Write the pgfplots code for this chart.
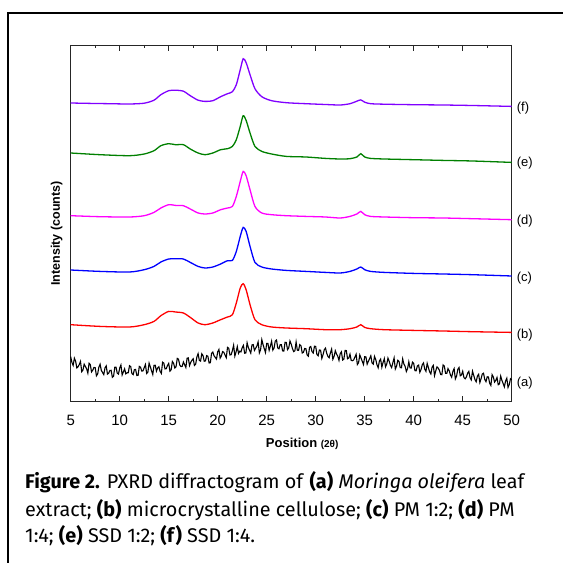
\documentclass[border=0pt]{standalone}
\usepackage{pgfplots}
\usepackage{pgfplotstable}
\pgfplotsset{compat=1.18}
\usepackage{fontspec}
\setmainfont{Liberation Sans}
\newfontfamily\capfont{Fira Sans}
\definecolor{cviolet}{RGB}{128,0,255}
\definecolor{cgreen}{RGB}{0,128,0}
\definecolor{cmag}{RGB}{255,0,255}
\pgfplotstableread{
x y
5.000 45
5.125 39.2
5.250 36.3
5.375 43.5
5.500 40.6
5.625 33.8
5.750 35
5.875 37.2
6.000 40.3
6.125 30
6.250 31.7
6.375 37.5
6.500 35.2
6.625 32.9
6.750 28.6
6.875 38.4
7.000 37.1
7.125 29.8
7.250 31.5
7.375 34.3
7.500 34
7.625 25.9
7.750 27.7
7.875 34.6
8.000 37.4
8.125 31.3
8.250 29.2
8.375 27.1
8.500 33.9
8.625 35.8
8.750 27.6
8.875 28.5
9.000 31.3
9.125 31.4
9.250 24.4
9.375 25.5
9.500 34.5
9.625 34.5
9.750 28.5
9.875 27.6
10.000 33.6
10.125 36.7
10.250 26.7
10.375 29.8
10.500 32.8
10.625 27.9
10.750 28.9
10.875 29
11.000 36
11.125 35.1
11.250 28.1
11.375 27.1
11.500 32.1
11.625 32.2
11.750 26.2
11.875 26.3
12.000 35.3
12.125 34.5
12.250 30.6
12.375 30.8
12.500 34
12.625 37.2
12.750 28.3
12.875 29.5
13.000 38.6
13.125 34.8
13.250 31
13.375 27.2
13.500 36.3
13.625 36.5
13.750 30.6
13.875 33.8
14.000 35
14.125 30.2
14.250 28.3
14.375 39.5
14.500 38.6
14.625 32.8
14.750 33
14.875 36.2
15.000 38.3
15.125 30.6
15.250 31.9
15.375 40.2
15.500 38.4
15.625 33.7
15.750 35
15.875 43.3
16.000 42.5
16.125 36.8
16.250 35.1
16.375 35.4
16.500 39.7
16.625 37
16.750 34.2
16.875 43.5
17.000 43.8
17.125 36.1
17.250 39.3
17.375 41.6
17.500 42.9
17.625 36.2
17.750 37.4
17.875 44.7
18.000 48
18.125 41.3
18.250 40.6
18.375 47.9
18.500 46.2
18.625 40.5
18.750 40.8
18.875 46.1
19.000 45.4
19.125 38.7
19.250 39
19.375 48.4
19.500 49.7
19.625 46
19.750 44.3
19.875 42.6
20.000 49.9
20.125 52.2
20.250 43.5
20.375 45.8
20.500 50.1
20.625 49.4
20.750 46.7
20.875 44
21.000 54.3
21.125 53.5
21.250 46.7
21.375 47
21.500 51.2
21.625 56.4
21.750 45.6
21.875 49.9
22.000 55.1
22.125 48.3
22.250 50.5
22.375 49.8
22.500 54
22.625 56.3
22.750 48.5
22.875 48.7
23.000 58.9
23.125 54.2
23.250 51.4
23.375 48.6
23.500 56.8
23.625 57.1
23.750 51.3
23.875 53.5
24.000 55.7
24.125 59.8
24.250 48.8
24.375 51.9
24.500 62
24.625 57.1
24.750 53.1
24.875 49.2
25.000 58.2
25.125 58.3
25.250 51.4
25.375 55.5
25.500 60.5
25.625 51.6
25.750 53.6
25.875 60.7
26.000 61.7
26.125 53.8
26.250 52.9
26.375 57
26.500 57
26.625 50.8
26.750 50.6
26.875 59.4
27.000 59.2
27.125 52.1
27.250 53.9
27.375 60.7
27.500 57.5
27.625 53.3
27.750 50.1
27.875 50.9
28.000 59.7
28.125 51.5
28.250 51.3
28.375 57.1
28.500 55.9
28.625 48.7
28.750 49.4
28.875 53.2
29.000 53
29.125 46.8
29.250 45.6
29.375 54.4
29.500 55.2
29.625 50
29.750 48.7
29.875 55.5
30.000 55.3
30.125 47.1
30.250 45.9
30.375 51.7
30.500 51.5
30.625 43.3
30.750 47.1
30.875 51.9
31.000 53.6
31.125 48.4
31.250 45.2
31.375 44
31.500 48.8
31.625 52.6
31.750 42.4
31.875 45.2
32.000 51
32.125 47.8
32.250 45.5
32.375 41.3
32.500 48.1
32.625 49.9
32.750 41.7
32.875 42.5
33.000 51.3
33.125 51.1
33.250 42.9
33.375 43.7
33.500 47.5
33.625 41.3
33.750 41
33.875 41.8
34.000 44.6
34.125 47.4
34.250 37.2
34.375 39
34.500 46.8
34.625 43.6
34.750 40.4
34.875 37.2
35.000 45
35.125 44.8
35.250 37.5
35.375 40.3
35.500 43.1
35.625 45.9
35.750 38.7
35.875 37.5
36.000 45.3
36.125 42.2
36.250 37
36.375 33.9
36.500 40.7
36.625 42.6
36.750 34.4
36.875 39.3
37.000 43.1
37.125 34.9
37.250 37.7
37.375 43.6
37.500 40.4
37.625 36.3
37.750 34.1
37.875 39
38.000 43.8
38.125 32.7
38.250 35.5
38.375 41.4
38.500 40.2
38.625 34.1
38.750 33.9
38.875 42.8
39.000 37.6
39.125 35.4
39.250 30.2
39.375 33.1
39.500 39.9
39.625 33.8
39.750 33.6
39.875 39.5
40.000 38.3
40.125 31.1
40.250 30.9
40.375 35.8
40.500 36.6
40.625 29.4
40.750 32.2
40.875 37
41.000 38.8
41.125 32.6
41.250 30.4
41.375 38.3
41.500 34.1
41.625 29.9
41.750 27.7
41.875 34.5
42.000 36.3
42.125 26.1
42.250 30.9
42.375 34.8
42.500 33.6
42.625 31.4
42.750 27.2
42.875 27
43.000 36.8
43.125 35.6
43.250 28.4
43.375 28.3
43.500 33.1
43.625 30.9
43.750 26.7
43.875 24.5
44.000 30.3
44.125 33.1
44.250 22.8
44.375 25.6
44.500 32.4
44.625 34.2
44.750 25.9
44.875 26.7
45.000 30.4
45.125 24.2
45.250 22.9
45.375 24.7
45.500 28.5
45.625 30.3
45.750 24
45.875 21.8
46.000 30.5
46.125 26.3
46.250 22.1
46.375 19.9
46.500 25.6
46.625 27.4
46.750 19.2
46.875 23
47.000 27.7
47.125 28.5
47.250 22.3
47.375 20.1
47.500 24.9
47.625 24.7
47.750 18.5
47.875 16.3
48.000 27
48.125 24.8
48.250 19.6
48.375 21.4
48.500 24.2
48.625 17
48.750 17.8
48.875 25.6
49.000 21.4
49.125 18.2
49.250 14.9
49.375 20.7
49.500 23.5
49.625 14.3
49.750 17.1
49.875 22.9
50.000 21.7
}\moringa
\begin{document}
\begin{tikzpicture}[x=1pt,y=1pt]
\useasboundingbox (0,0) rectangle (563,563);
\draw[line width=2pt] (8.3,-2) -- (8.3,550) -- (570,550);
\begin{axis}[
  at={(70.7pt,161.3pt)}, anchor=south west,
  scale only axis, width=441pt, height=356.7pt,
  xmin=5, xmax=50, ymin=0, ymax=356.7,
  xtick={5,10,...,50}, minor x tick num=1,
  ytick=\empty, minor ytick={12.74,25.48,...,350},
  tick align=inside, major tick length=6pt, minor tick length=3pt,
  axis line style={line width=0.9pt, black!85},
  tick style={line width=0.6pt, black!85},
  /pgf/number format/assume math mode=true,
  xticklabel style={font=\fontsize{15}{15}\selectfont, anchor=center, yshift=-19pt},
  xlabel={\textbf{Position} {\fontsize{10}{10}\selectfont\textbf{(2θ)}}},
  xlabel style={at={(axis description cs:0.525,-0.1194)}, anchor=center, font=\fontsize{13}{13}\selectfont},
  ylabel={\textbf{Intensity (counts)}},
  ylabel style={at={(axis description cs:-0.0317,0.4716)}, anchor=center, rotate=0, font=\fontsize{12.5}{12.5}\selectfont},
  clip=false,
]
% (a) Moringa oleifera leaf extract
\addplot[black, line width=1.1pt] table {\moringa};
% (b) microcrystalline cellulose
\addplot[red, line width=1.3pt, smooth, tension=0.45] coordinates {
(5,77) (8,75.3) (11,74.7) (12.5,77) (13.5,80.3) (14.2,86) (15,90.3) (15.7,89.7) (16.5,88.7) (17.2,84.3)
(18,78.7) (18.7,77) (19.5,78.7) (20.3,82) (21,84.7) (21.5,87) (21.9,98.7) (22.3,113.7) (22.6,118) (22.9,112)
(23.3,97) (23.8,82) (24.5,77) (25.5,74.7) (27,73.7) (29,73) (31,72) (32.5,72) (33.5,73) (34.2,74.7)
(34.6,77) (35,74.3) (35.6,73) (37,72) (40,71.3) (43,70.7) (46,70) (50,69.3)
};
% (c) PM 1:2
\addplot[blue, line width=1.3pt, smooth, tension=0.45] coordinates {
(5,131.7) (8,130.3) (11,129.7) (12.5,132) (13.5,135.3) (14.2,139.7) (15,142.7) (15.7,143) (16.5,142.7) (17.2,139.3)
(18,135.3) (18.7,133.7) (19.5,134.7) (20.3,137.7) (21,141) (21.5,141.3) (21.9,150.3) (22.3,165.3) (22.6,174.3) (22.9,170.3)
(23.3,155.3) (23.8,139.3) (24.5,134.7) (25.5,132.7) (27,131.3) (29,130.3) (31,129.3) (32.5,128.7) (33.5,130.3) (34.2,132.7)
(34.6,134.7) (35,132) (35.6,130.3) (37,129.3) (40,128.3) (43,127.7) (46,127) (50,125.7)
};
% (d) PM 1:4
\addplot[cmag, line width=1.3pt, smooth, tension=0.45] coordinates {
(5,186) (8,185) (11,184.7) (12.5,186) (13.5,189.3) (14.2,193.7) (15,197) (15.7,196.3) (16.5,196) (17.2,192.7)
(18,188.7) (18.7,187.7) (19.5,188.7) (20.3,192) (21,193.7) (21.5,195.3) (21.9,205.3) (22.3,220.3) (22.6,230.3) (22.9,226)
(23.3,212) (23.8,195.3) (24.5,188.7) (25.5,187) (27,186) (29,185.3) (31,184.7) (32.5,183.7) (33.5,185.3) (34.2,187.7)
(34.6,190.3) (35,187) (35.6,185.3) (37,184.7) (40,184) (43,183.7) (46,183) (50,182)
};
% (e) SSD 1:2
\addplot[cgreen, line width=1.3pt, smooth, tension=0.45] coordinates {
(5,248.7) (8,247) (11,246) (12.5,247.7) (13.5,251) (14.2,256) (15,258) (15.7,257) (16.5,257) (17.2,252.7)
(18,248.7) (18.7,247) (19.5,248.7) (20.3,252) (21,253) (21.5,255.3) (21.9,262) (22.3,275.3) (22.6,286) (22.9,281.3)
(23.3,268.7) (23.8,255.3) (24.5,250.3) (25.5,247.7) (27,245.3) (29,244.7) (31,243.3) (32.5,242.7) (33.5,243) (34.2,244.7)
(34.6,248) (35,244.7) (35.6,243.3) (37,242.7) (40,242) (43,241.3) (46,240.7) (50,239.3)
};
% (f) SSD 1:4
\addplot[cviolet, line width=1.3pt, smooth, tension=0.45] coordinates {
(5,298.7) (7,298.3) (9,298) (11,297.7) (12.5,298.5) (13.5,301.5) (14.2,307) (15,311) (15.7,311.5) (16.5,310.5)
(17.2,306) (18,301.5) (18.7,300.3) (19.5,301) (20.3,305) (21,308) (21.5,310) (21.9,317) (22.3,332) (22.6,343)
(22.9,339) (23.3,327) (23.8,313) (24.5,305) (25.5,301) (27,299) (29,298) (31,297.2) (32.5,296.7) (33.5,298)
(34.2,300.5) (34.6,301.8) (35,299.5) (35.6,298) (37,297.5) (40,297) (43,296.7) (46,296.2) (50,295.3)
};
\node[anchor=west, font=\fontsize{13}{13}\selectfont, inner sep=0pt, xshift=5pt] at (axis cs:50,18.7) {(a)};
\node[anchor=west, font=\fontsize{13}{13}\selectfont, inner sep=0pt, xshift=5pt] at (axis cs:50,67) {(b)};
\node[anchor=west, font=\fontsize{13}{13}\selectfont, inner sep=0pt, xshift=5pt] at (axis cs:50,124) {(c)};
\node[anchor=west, font=\fontsize{13}{13}\selectfont, inner sep=0pt, xshift=5pt] at (axis cs:50,181) {(d)};
\node[anchor=west, font=\fontsize{13}{13}\selectfont, inner sep=0pt, xshift=5pt] at (axis cs:50,238.5) {(e)};
\node[anchor=west, font=\fontsize{13}{13}\selectfont, inner sep=0pt, xshift=5pt] at (axis cs:50,294) {(f)};
\end{axis}
\node[anchor=base west, inner sep=0pt] at (25,74) {\capfont\fontsize{19.8}{26.5}\selectfont\textbf{Figure 2.} PXRD diffractogram of \textbf{(a)} \textit{Moringa oleifera} leaf};
\node[anchor=base west, inner sep=0pt] at (25,46.3) {\capfont\fontsize{19.8}{26.5}\selectfont extract; \textbf{(b)} microcrystalline cellulose; \textbf{(c)} PM 1:2; \textbf{(d)} PM};
\node[anchor=base west, inner sep=0pt] at (25,20.3) {\capfont\fontsize{19.8}{26.5}\selectfont 1:4; \textbf{(e)} SSD 1:2; \textbf{(f)} SSD 1:4.};
\end{tikzpicture}
\end{document}
